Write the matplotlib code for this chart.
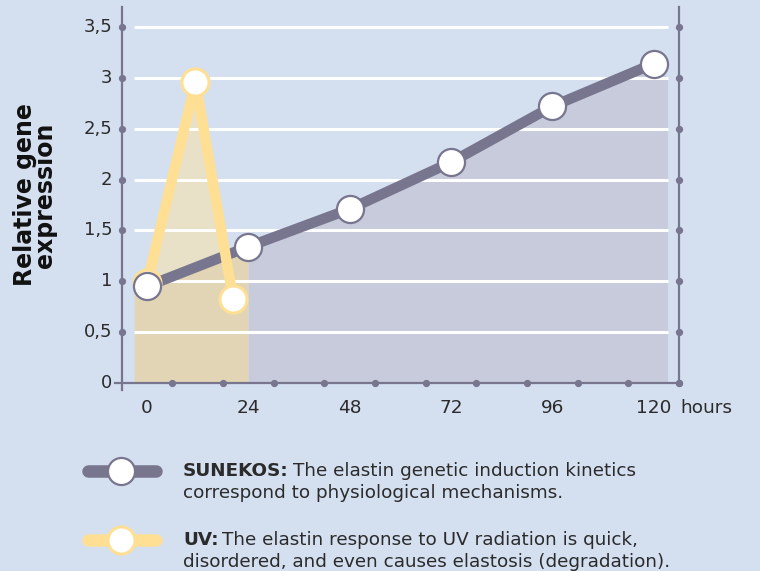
import matplotlib
matplotlib.use("Agg")
import matplotlib.pyplot as plt
from matplotlib.lines import Line2D

# ---- data ----
hours_sunekos = [0, 24, 48, 72, 96, 120]
sunekos = [0.95, 1.34, 1.71, 2.17, 2.72, 3.14]
hours_uv = [0, 11.5, 20.4]
uv = [0.98, 2.96, 0.83]
x_ticks = [0, 24, 48, 72, 96, 120]
x_tick_labels = ["0", "24", "48", "72", "96", "120"]
y_ticks = [0, 0.5, 1, 1.5, 2, 2.5, 3, 3.5]
y_tick_labels = ["0", "0,5", "1", "1,5", "2", "2,5", "3", "3,5"]
x_minor_dots = [6, 18, 30, 42, 54, 66, 78, 90, 102, 114, 126]
fill_left = -3
fill_right = 123.3
fill_right_top = 3.0

BG = "#d4dff0"
GREY = "#78758f"
YELLOW = "#fedf94"
GREY_FILL = "#c8cbdc"
TAN_DARK = "#e2d5b6"
TAN_LIGHT = "#e8e1c7"
TEXT = "#2b2b2b"

plt.rcParams["font.family"] = ["DejaVu Sans"]

fig = plt.figure(figsize=(7.6, 5.71), dpi=100, facecolor=BG)
W, H = 760, 571
ax = fig.add_axes([121.6 / W, 1 - 390.1 / H, (679 - 121.6) / W, (390.1 - 6.7) / H])
ax.set_xlim(-6, 126)
ax.set_ylim(-0.07, 3.70)
ax.set_facecolor("none")
ax.axis("off")

# fills
ax.fill_between([fill_left] + hours_uv, [uv[0]] + uv, 0, color=TAN_LIGHT, lw=0, zorder=1)
ax.fill_between([fill_left] + hours_sunekos[:2], [sunekos[0]] + sunekos[:2], 0,
                color=TAN_DARK, lw=0, zorder=1.1)
ax.fill_between(hours_sunekos[1:] + [fill_right], sunekos[1:] + [fill_right_top], 0,
                color=GREY_FILL, lw=0, zorder=1.1)

# grid
for yv in y_ticks[1:]:
    ax.plot([fill_left, fill_right], [yv, yv], color="white", lw=2.2, zorder=2,
            solid_capstyle="butt")

# axes lines
ax.plot([-6, -6], [-0.07, 3.70], color=GREY, lw=1.6, zorder=2.5, clip_on=False)
ax.plot([126, 126], [0, 3.70], color=GREY, lw=1.6, zorder=2.5, clip_on=False)
ax.plot([-7.5, 126], [0, 0], color=GREY, lw=1.6, zorder=2.5, clip_on=False)
ax.plot([-6] * (len(y_ticks) - 1), y_ticks[1:], "o", color=GREY, ms=4.2, zorder=2.6, clip_on=False)
ax.plot([126] * len(y_ticks), y_ticks, "o", color=GREY, ms=4.2, zorder=2.6, clip_on=False)
ax.plot(x_minor_dots, [0] * len(x_minor_dots), "o", color=GREY, ms=4.2, zorder=2.6, clip_on=False)

# lines
ax.plot(hours_sunekos, sunekos, color=GREY, lw=7.5, zorder=3, solid_capstyle="round")
ax.plot(hours_uv, uv, color=YELLOW, lw=7.5, zorder=4, solid_capstyle="round")
ax.plot(hours_uv, uv, "o", ms=19.5, mfc="white", mec=YELLOW, mew=2.2, zorder=5)
ax.plot(hours_sunekos, sunekos, "o", ms=19.5, mfc="white", mec=GREY, mew=1.6, zorder=6)

# tick labels
for yv, lab in zip(y_ticks, y_tick_labels):
    ax.text(-8.2, yv, lab, ha="right", va="center", fontsize=13, color=TEXT)
for xv, lab in zip(x_ticks, x_tick_labels):
    ax.text(xv, -0.25, lab, ha="center", va="center", fontsize=13.3, color=TEXT)
ax.text(126.3, -0.25, "hours", ha="left", va="center", fontsize=13.3, color=TEXT)

# y label
fig.text(35 / W, 1 - 195 / H, "Relative gene\nexpression", rotation=90, ha="center",
         va="center", fontsize=17, fontweight="bold", color="#111111", linespacing=0.8,
         multialignment="center")

# legend
FS_LEG = 13.2
def legend_item(yc, color, edge_w, bold, line1, line2):
    y = 1 - yc / H
    fig.add_artist(Line2D([88 / W, 156 / W], [y, y], color=color, lw=9,
                          solid_capstyle="round", transform=fig.transFigure))
    fig.add_artist(Line2D([121 / W], [y], marker="o", ms=19.5, mfc="white", mec=color,
                          mew=edge_w, transform=fig.transFigure))
    t = fig.text(183 / W, y, bold, ha="left", va="center", fontsize=FS_LEG,
                 fontweight="bold", color=TEXT)
    fig.canvas.draw()
    bb = t.get_window_extent()
    fig.text(bb.x1 / W + 4 / W, y, line1, ha="left", va="center", fontsize=FS_LEG, color=TEXT)
    fig.text(183 / W, y - 21.7 / H, line2, ha="left", va="center", fontsize=FS_LEG, color=TEXT)

legend_item(471, GREY, 1.6, "SUNEKOS:", "The elastin genetic induction kinetics",
            "correspond to physiological mechanisms.")
legend_item(540, YELLOW, 2.2, "UV:", "The elastin response to UV radiation is quick,",
            "disordered, and even causes elastosis (degradation).")

fig.savefig("out.png", dpi=100, facecolor=BG)
